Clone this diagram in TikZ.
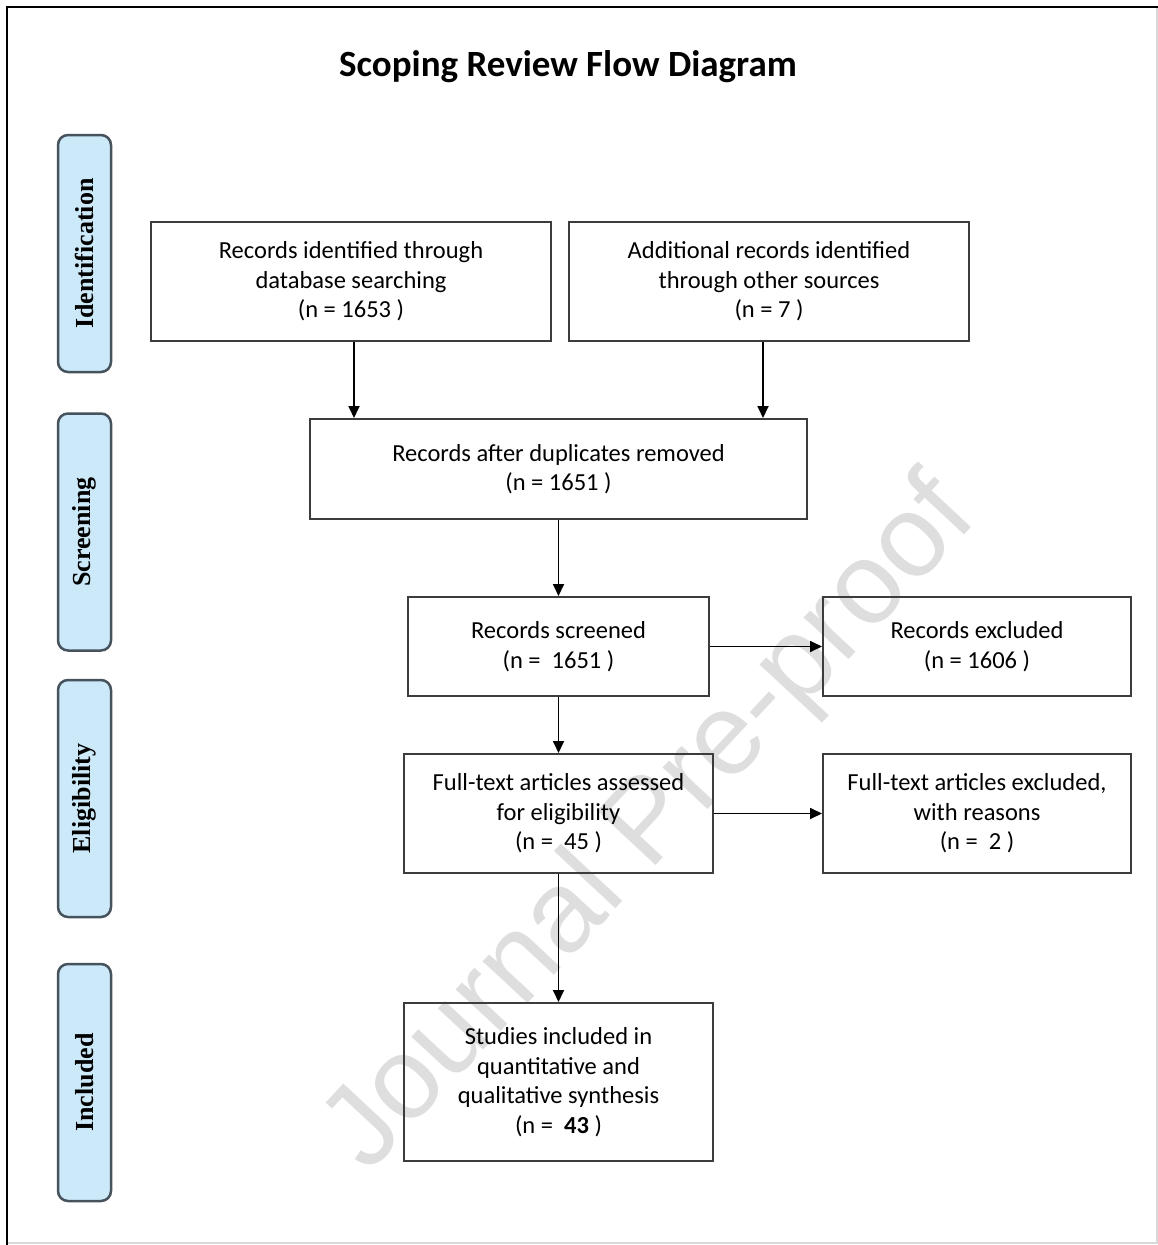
\documentclass[tikz,border=0pt]{standalone}
\usepackage{fontspec}
\setmainfont{Carlito}
\newfontfamily\serifb{Liberation Serif}
\newfontfamily\wmfont{Liberation Sans}
\usetikzlibrary{arrows.meta}
\definecolor{boxline}{RGB}{60,60,60}
\definecolor{barfill}{RGB}{204,233,250}
\definecolor{barline}{RGB}{70,82,92}
\tikzset{
  fbox/.style={draw=boxline, line width=2pt, align=center, inner sep=0pt,
    font=\fontsize{24.5}{29.5}\selectfont},
  sidebar/.style={draw=barline, fill=barfill, line width=2.5pt, rounded corners=10pt,
    rotate=90, minimum width=237pt, minimum height=53pt, inner sep=0pt,
    font=\serifb\bfseries\fontsize{26}{28}\selectfont},
  arr/.style={draw=black, line width=1.8pt, -{Triangle[length=12pt,width=11pt]}}
}
\begin{document}
\begin{tikzpicture}[x=1pt,y=-1pt]
\useasboundingbox (0,0) rectangle (1158,1245);
% frame
\draw[black!15, line width=1.5pt] (1157,7) -- (1157,1243) -- (7,1243);
\draw[black, line width=2pt] (7,1245) -- (7,7) -- (1158,7);
% watermark
\node[rotate=47, text=black!13, font=\wmfont\fontsize{116}{116}\selectfont, inner sep=0pt] (wm) at (652,826) {Journal Pre-proof};
% title
\node[font=\bfseries\fontsize{37}{40}\selectfont] (title) at (568,67) {Scoping Review Flow Diagram};
% side bars
\node[sidebar] (s1) at (84.5,253.5) {Identification};
\node[sidebar] (s2) at (84.5,532) {Screening};
\node[sidebar] (s3) at (84.5,798.5) {Eligibility};
\node[sidebar] (s4) at (84.5,1082.5) {Included};
% boxes
\node[fbox, minimum width=400pt, minimum height=119pt] (A) at (351,281.5)
  {Records identified through\\database searching\\(n = 1653 )};
\node[fbox, minimum width=400pt, minimum height=119pt] (B) at (769,281.5)
  {Additional records identified\\through other sources\\(n = 7 )};
\node[fbox, minimum width=497pt, minimum height=100pt] (C) at (558.5,469)
  {Records after duplicates removed\\(n = 1651 )};
\node[fbox, minimum width=301pt, minimum height=99pt] (D) at (558.5,646.5)
  {Records screened\\(n =~ 1651 )};
\node[fbox, minimum width=308pt, minimum height=99pt] (E) at (977,646.5)
  {Records excluded\\(n = 1606 )};
\node[fbox, minimum width=309pt, minimum height=119pt] (F) at (558.5,813.5)
  {Full-text articles assessed\\for eligibility\\(n =~ 45 )};
\node[fbox, minimum width=308pt, minimum height=119pt] (G) at (977,813.5)
  {Full-text articles excluded,\\with reasons\\(n =~ 2 )};
\node[fbox, minimum width=309pt, minimum height=158pt] (H) at (558.5,1082)
  {Studies included in\\quantitative and\\qualitative synthesis\\(n =~ \textbf{43} )};
% connectors
\coordinate (ax) at (354,0);
\coordinate (bx) at (763,0);
\draw[arr] (A.south -| ax) -- (C.north -| ax);
\draw[arr] (B.south -| bx) -- (C.north -| bx);
\draw[arr] (C.south) -- (D.north);
\draw[arr] (D.east) -- (E.west);
\draw[arr] (D.south) -- (F.north);
\draw[arr] (F.east) -- (G.west);
\draw[arr] (F.south) -- (H.north);
\end{tikzpicture}
\end{document}
